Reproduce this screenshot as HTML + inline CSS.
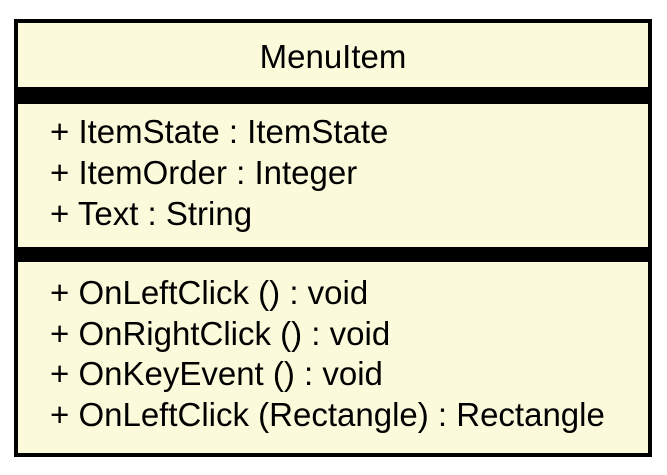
<!DOCTYPE html>
<html><head><style>
body{margin:0;width:667px;height:475px;background:#fff;position:relative;font-family:"Liberation Sans",Arial,sans-serif;}
.box{position:absolute;left:14px;top:19px;width:630px;height:430px;border:4px solid #000;background:#fbfadb;}
.band{position:absolute;left:0;right:0;background:#000;}
.t{position:absolute;font-size:33px;color:#000;white-space:nowrap;line-height:41px;}
</style></head><body>
<div class="box">
<div class="t" style="left:0;right:0;text-align:center;top:13px;">MenuItem</div>
<div class="band" style="top:64px;height:17px;"></div>
<div class="t" style="left:32px;top:88px;">+ ItemState : ItemState</div>
<div class="t" style="left:32px;top:129px;">+ ItemOrder : Integer</div>
<div class="t" style="left:32px;top:170px;">+ Text : String</div>
<div class="band" style="top:224px;height:15px;"></div>
<div class="t" style="left:32px;top:249px;">+ OnLeftClick () : void</div>
<div class="t" style="left:32px;top:290px;">+ OnRightClick () : void</div>
<div class="t" style="left:32px;top:330px;">+ OnKeyEvent () : void</div>
<div class="t" style="left:32px;top:371px;">+ OnLeftClick (Rectangle) : Rectangle</div>
</div>
</body></html>
